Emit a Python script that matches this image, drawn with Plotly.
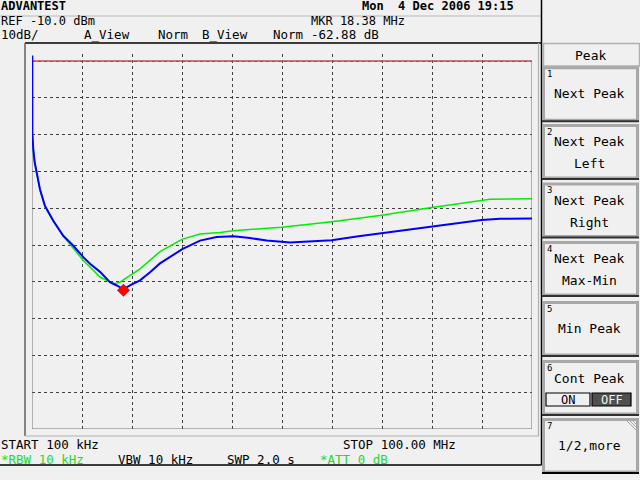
import plotly.graph_objects as go

# ---------------- data ----------------
blue_freq = [0.16, 0.18, 0.36, 0.64, 1.04, 1.70, 2.70, 4.36, 6.35, 8.35, 10.35, 11.69, 13.69, 15.68,
             17.02, 18.38, 19.68, 21.68, 23.68, 25.67, 30.13, 33.67, 37.00, 40.32, 43.66, 47.0,
             51.65, 55.64, 59.98, 64.98, 69.97, 74.97, 79.96, 84.96, 89.95, 93.6, 100.0]
blue_db = [-8.5, -30.0, -34.0, -37.6, -40.3, -44.9, -49.4, -53.4, -57.5, -60.2, -63.3, -65.1, -67.3, -70.1,
           -71.0, -72.0, -71.0, -69.6, -67.4, -65.0, -61.1, -58.8, -57.8, -57.6, -58.1, -58.8,
           -59.3, -59.1, -58.7, -57.7, -56.8, -56.0, -55.0, -54.1, -53.2, -52.9, -52.8]

green_freq = [0.18, 0.36, 0.70, 1.10, 1.70, 2.70, 4.36, 6.35, 8.35, 10.35, 11.69, 13.69, 15.68, 16.68,
              17.68, 19.68, 21.68, 25.67, 30.13, 33.67, 37.66, 40.32, 49.99, 59.98, 69.97, 79.96,
              89.95, 91.6, 100.0]
green_db = [-30.0, -34.0, -38.0, -41.0, -45.0, -49.6, -53.6, -57.6, -60.8, -64.2, -66.0, -68.7, -70.1, -70.5,
            -70.1, -68.3, -66.5, -61.8, -58.4, -57.0, -56.6, -56.1, -55.2, -53.7, -51.9, -49.8,
            -48.0, -47.6, -47.4]

marker_freq = [18.38]
marker_db = [-72.3]

start_mhz, stop_mhz = 0.1, 100.0
ref_db, bottom_db, db_div = -10.0, -110.0, 10.0

header_left = "ADVANTEST"
header_right = "Mon  4 Dec 2006 19:15"
softkeys = [
    ("1", ["Next Peak"]),
    ("2", ["Next Peak", "Left"]),
    ("3", ["Next Peak", "Right"]),
    ("4", ["Next Peak", "Max-Min"]),
    ("5", ["Min Peak"]),
    ("6", ["Cont Peak"]),
    ("7", ["1/2,more"]),
]

# ---------------- helpers ----------------
W, H = 640, 480
BG = "#f0f0f0"
FONT = "DejaVu Sans Mono"
GREEN_TXT = "#22dd22"


def px(x):
    return x / W


def py(y):
    return 1 - y / H


shapes = []
annotations = []


def line(x0, y0, x1, y1, color, width=1, layer="below"):
    shapes.append(dict(type="line", xref="paper", yref="paper", x0=px(x0), y0=py(y0),
                       x1=px(x1), y1=py(y1), line=dict(color=color, width=width), layer=layer))


def rect(x0, y0, x1, y1, color, width=1, fill=None, layer="below"):
    d = dict(type="rect", xref="paper", yref="paper", x0=px(x0), y0=py(y0), x1=px(x1), y1=py(y1),
             line=dict(color=color, width=width), layer=layer)
    if fill:
        d["fillcolor"] = fill
    shapes.append(d)


def text(x, y, s, size=12.5, color="black", anchor="left", weight="normal"):
    annotations.append(dict(xref="paper", yref="paper", x=px(x), y=py(y), text=s, showarrow=False,
                            xanchor=anchor, yanchor="middle", borderpad=0,
                            font=dict(family=FONT, size=size, color=color, weight=weight)))


# ---------------- figure ----------------
fig = go.Figure()
fig.add_trace(go.Scatter(x=green_freq, y=green_db, mode="lines",
                         line=dict(color="#00ee00", width=1.5), hoverinfo="skip"))
fig.add_trace(go.Scatter(x=blue_freq, y=blue_db, mode="lines",
                         line=dict(color="#0000ff", width=2), hoverinfo="skip"))
fig.add_trace(go.Scatter(x=marker_freq, y=marker_db, mode="markers",
                         marker=dict(symbol="diamond", size=10, color="#ff0000"), hoverinfo="skip"))

# plot box and reference line (data coords)
shapes.append(dict(type="rect", xref="x", yref="y", x0=start_mhz, x1=stop_mhz, y0=bottom_db, y1=ref_db,
                   line=dict(color="#707070", width=1), layer="between"))
shapes.append(dict(type="line", xref="x", yref="y", x0=start_mhz, x1=stop_mhz, y0=ref_db, y1=ref_db,
                   line=dict(color="#e04040", width=1.2), layer="between"))

# screen frame lines
line(0, 16, 541, 16, "#b8b8b8", 1)
line(25, 43, 541.5, 43, "black", 1.5)
line(25, 43, 25, 436, "#606060", 1.5)
line(25, 436, 538.5, 436, "#b0b0b0", 1.2)
line(538.5, 43, 538.5, 436, "#b0b0b0", 1.2)
line(0, 465, 541.5, 465, "black", 1.5)
line(541.5, 0, 541.5, 465, "black", 1.5)

# top text
TS = 12
TS3 = 12.5
text(0, 6.3, header_left, size=TS, weight="bold")
text(515, 6.3, header_right, size=TS, anchor="right", weight="bold")
text(0, 20.5, "REF -10.0 dBm", size=TS)
text(310, 20.5, "MKR 18.38 MHz", size=TS)
text(0, 34.8, "10dB/", size=TS3)
text(83, 34.8, "A_View", size=TS3)
text(157, 34.8, "Norm", size=TS3)
text(201, 34.8, "B_View", size=TS3)
text(272, 34.8, "Norm", size=TS3)
text(310, 34.8, "-62.88 dB", size=TS3)

# bottom text
text(0, 444, "START 100 kHz")
text(342, 444, "STOP 100.00 MHz")
text(0, 459, "*RBW 10 kHz", color=GREEN_TXT)
text(117, 459, "VBW 10 kHz")
text(226, 459, "SWP 2.0 s")
text(319, 459, "*ATT 0 dB", color=GREEN_TXT)

# softkey panel
rect(543.5, 43.5, 639.5, 66, "#b0b0b0", 1.5)
text(590, 55, "Peak", size=13, anchor="center")
tops = [66.7, 124.5, 183, 241.5, 301.5, 360.5, 418.5]
bh = 54.5
cx = 589.5
for (num, labels), top in zip(softkeys, tops):
    bot = top + bh
    rect(543.5, top + 1, 637.5, bot - 1, "#a8a8a8", 3)
    line(542, bot, 639, bot, "#303030" if num != "7" else "black", 2)
    text(546, top + 7, num, size=9)
    if num == "6":
        text(cx, top + 18, labels[0], size=13, anchor="center")
    elif len(labels) == 1:
        text(cx, (top + bot) / 2, labels[0], size=13, anchor="center")
    else:
        text(cx, top + 17, labels[0], size=13, anchor="center")
        text(cx, top + 39, labels[1], size=13, anchor="center")

# ON/OFF toggle in key 6
rect(546, 393, 590, 406, "black", 1.2, fill=BG)
rect(592, 393, 631, 406, "black", 1.2, fill="#505050")
text(568, 399.5, "ON", size=12, anchor="center")
text(611.5, 399.5, "OFF", size=12, color="#f0f0f0", anchor="center")
# corner hatch on key 7
for k in range(3):
    line(626 + 3 * k, 420, 637, 431 - 3 * k, "#a0a0a0", 1)

y_top_ext = -8.0  # allow trace overshoot above reference line
fig.update_layout(
    width=W, height=H,
    margin=dict(l=0, r=0, t=0, b=0),
    paper_bgcolor=BG, plot_bgcolor=BG,
    showlegend=False,
    xaxis=dict(domain=[px(32), px(532)], range=[start_mhz, stop_mhz], tick0=start_mhz,
               dtick=(stop_mhz - start_mhz) / 10, showticklabels=False, ticks="",
               showgrid=True, gridcolor="#404040", griddash="dot", gridwidth=1,
               zeroline=False, showline=False),
    yaxis=dict(domain=[py(429), py(429 - (y_top_ext - bottom_db) * (368 / 100))],
               range=[bottom_db, y_top_ext], tick0=bottom_db, dtick=db_div,
               showticklabels=False, ticks="",
               showgrid=True, gridcolor="#404040", griddash="dot", gridwidth=1,
               zeroline=False, showline=False),
    shapes=shapes,
    annotations=annotations,
)

fig.write_html("out.html", config={"displayModeBar": False},
               post_script="document.body.style.margin='0px';document.body.style.overflow='hidden';")
